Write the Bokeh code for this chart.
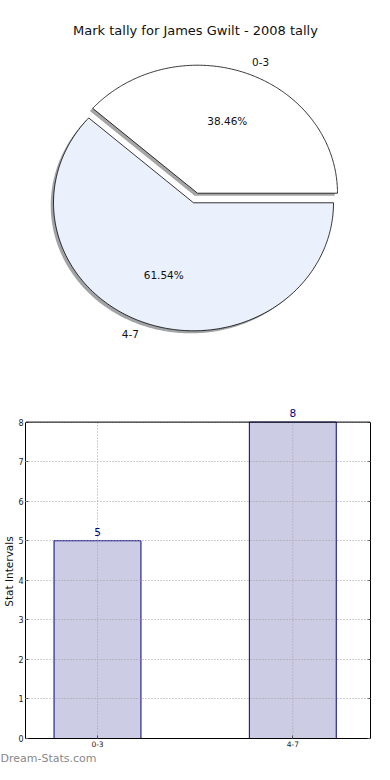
import numpy as np
from bokeh.plotting import figure
from bokeh.models import (Range1d, FixedTicker, LabelSet, ColumnDataSource, Span,
                          LinearAxis, Title)
from bokeh.layouts import column
from bokeh.core.properties import value
from bokeh.embed import file_html
from bokeh.resources import INLINE

# ---------------- data ----------------
title = "Mark tally for James Gwilt - 2008 tally"
categories = ["0-3", "4-7"]
counts = [5, 8]
pie_colors = ["#ffffff", "#eaf0fc"]
explode = [0.04, 0.04]
y_ticks = [0, 1, 2, 3, 4, 5, 6, 7, 8]
y_label = "Stat Intervals"
watermark = "Dream-Stats.com"

FONT_NAME = "DejaVu Sans"
FONT = value(FONT_NAME)
W = 374
BL, BR = 25, 4            # shared left / right borders (column aligns frames)

# ---------------- pie (top) ----------------
H1 = 390
RX, RY = 140.0, 128.0     # px per unit radius (elliptic, like the original)
CX, CY = 195.0, 197.5     # pie centre in canvas px (from top-left)

p1 = figure(width=W, height=H1,
            x_range=Range1d((BL - CX) / RX, (W - BR - CX) / RX),
            y_range=Range1d(-(H1 - CY) / RY, CY / RY),
            x_axis_type=None, y_axis_type=None,
            toolbar_location=None, output_backend="svg",
            min_border_left=BL, min_border_right=BR,
            min_border_top=0, min_border_bottom=0, outline_line_color=None)


def shade(hexcol, k=0.3):
    h = hexcol.lstrip("#")
    r, g, b = (int(h[i:i + 2], 16) for i in (0, 2, 4))
    return "#%02x%02x%02x" % (int(r * k), int(g * k), int(b * k))


total = float(sum(counts))
fracs = [c / total for c in counts]
theta = np.concatenate([[0.0], np.cumsum(fracs)]) * 2 * np.pi

wx, wy, sx, sy, mids, centres = [], [], [], [], [], []
for i in range(len(counts)):
    t = np.linspace(theta[i], theta[i + 1], 240)
    mid = 0.5 * (theta[i] + theta[i + 1])
    cx = explode[i] * np.cos(mid)
    cy = explode[i] * np.sin(mid)
    xs = np.concatenate([[cx], cx + np.cos(t), [cx]])
    ys = np.concatenate([[cy], cy + np.sin(t), [cy]])
    wx.append(list(xs)); wy.append(list(ys))
    sx.append(list(xs - 0.02)); sy.append(list(ys - 0.02))
    mids.append(mid); centres.append((cx, cy))

p1.patches(sx, sy, fill_color=[shade(c) for c in pie_colors], fill_alpha=0.5,
           line_color=None)
p1.patches(wx, wy, fill_color=pie_colors, line_color="black", line_width=0.8)

for i, cat in enumerate(categories):
    cx, cy = centres[i]
    c, s = np.cos(mids[i]), np.sin(mids[i])
    p1.text(x=[cx + 1.1 * c], y=[cy + 1.1 * s], text=[cat],
            text_align="left" if c > 0 else "right", text_baseline="middle",
            text_font=FONT, text_font_size="10.5px", text_color="#111111")
    p1.text(x=[cx + 0.6 * c], y=[cy + 0.6 * s], text=["%.2f%%" % (fracs[i] * 100)],
            text_align="center", text_baseline="middle",
            text_font=FONT, text_font_size="10.5px", text_color="#111111")

p1.text(x=[0], y=[(CY - 30) / RY], text=[title], text_align="center",
        text_baseline="middle", text_font=FONT, text_font_size="13px",
        text_color="#111111")

# ---------------- bars (bottom) ----------------
H2 = 764 - H1
YMAX = max(y_ticks)
PX_PER_UNIT = (740 - 421.7) / YMAX
y_end = YMAX + 17.7 / PX_PER_UNIT          # room above the box for the "8" label
X_PX = 195.3                               # px per category step
x_start = -(97 - BL) / X_PX
x_end = 1 + (W - BR - 292.3) / X_PX
x_pos = list(range(len(categories)))
p2 = figure(width=W, height=H2, x_range=Range1d(x_start, x_end),
            y_range=Range1d(0, y_end),
            toolbar_location=None, output_backend="svg",
            min_border_top=14, min_border_bottom=24, min_border_right=BR,
            min_border_left=BL, outline_line_color=None)
p2.vbar(x=x_pos, top=counts, bottom=0, width=0.445,
        fill_color="#ccccE5", line_color="#000080", line_width=1)

# vertical dotted grid lines at the categories, inside the box only
p2.segment(x0=x_pos, y0=[0] * len(x_pos), x1=x_pos, y1=[YMAX] * len(x_pos),
           line_color="#a0a0a0", line_dash="1 2", line_width=1)

src = ColumnDataSource(dict(x=x_pos, top=counts, label=[str(c) for c in counts]))
p2.add_layout(LabelSet(x="x", y="top", text="label", source=src, y_offset=5,
                       text_align="center", text_baseline="bottom",
                       text_color="#000080", text_font=FONT,
                       text_font_size="10.5px"))

xax = p2.xaxis[0]
yax = p2.yaxis[0]
xax.ticker = FixedTicker(ticks=x_pos)
xax.major_label_overrides = {i: c for i, c in enumerate(categories)}
yax.ticker = FixedTicker(ticks=y_ticks)
yax.bounds = (0, YMAX)
for ax in (xax, yax):
    ax.axis_line_color = "black"
    ax.major_tick_in = 3
    ax.major_tick_out = 0
    ax.major_tick_line_color = "#555555"
    ax.minor_tick_line_color = None
    ax.major_label_text_font = FONT_NAME
    ax.major_label_text_color = "#222222"
    ax.major_label_standoff = 2
xax.major_label_text_font_size = "7.5px"
yax.major_label_text_font_size = "8px"
yax.axis_label = y_label
yax.axis_label_text_font = FONT_NAME
yax.axis_label_text_font_size = "10.5px"
yax.axis_label_text_font_style = "normal"
yax.axis_label_text_color = "#111111"
yax.axis_label_standoff = 0

# box: top edge and right edge (right edge carries inward ticks, no labels)
p2.add_layout(Span(location=YMAX, dimension="width", line_color="black", line_width=1))
right_axis = LinearAxis(ticker=FixedTicker(ticks=y_ticks), bounds=(0, YMAX),
                        major_label_text_font_size="0px", major_label_standoff=0,
                        major_label_text_alpha=0,
                        major_tick_in=3, major_tick_out=0,
                        major_tick_line_color="#555555", minor_tick_line_color=None,
                        axis_line_color="black")
p2.add_layout(right_axis, "right")

p2.xgrid.visible = False
p2.ygrid.grid_line_color = "#a0a0a0"
p2.ygrid.grid_line_dash = "1 2"
p2.ygrid.grid_line_width = 1
p2.ygrid.level = "guide"

p2.add_layout(Title(text=watermark, align="left", offset=-BL, standoff=0,
                    text_font=FONT_NAME, text_font_size="11px",
                    text_font_style="normal", text_color="#888888"), "below")

layout = column(p1, p2, spacing=0)
open("out.html", "w").write(file_html(layout, INLINE))
